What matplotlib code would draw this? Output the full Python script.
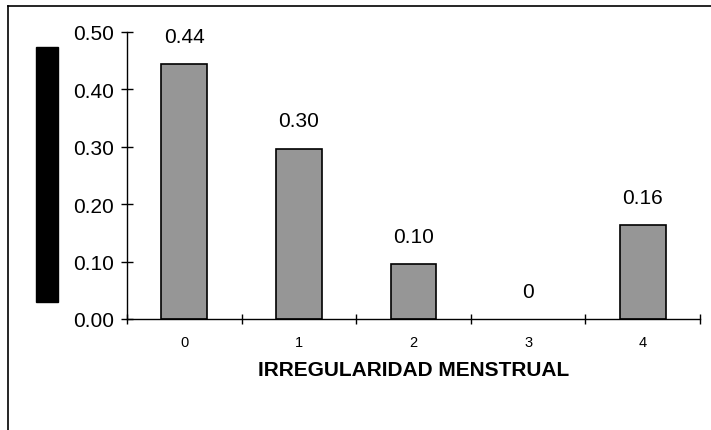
import matplotlib.pyplot as plt
from matplotlib.lines import Line2D
from matplotlib.patches import Rectangle

plt.rcParams['font.family'] = ['Liberation Sans', 'DejaVu Sans']

categorias = ["0", "1", "2", "3", "4"]
valores = [0.444, 0.297, 0.095, 0.0, 0.163]
etiquetas = ["0.44", "0.30", "0.10", "0", "0.16"]
yticks = [0.0, 0.1, 0.2, 0.3, 0.4, 0.5]

fig = plt.figure(figsize=(7.11, 4.31), dpi=100)
ax = fig.add_axes([127 / 711, 1 - 320 / 431, 573 / 711, 287 / 431])

x = list(range(len(categorias)))
# no outline for the empty category, it would just sit on the axis
lw = [1.2 if v > 0 else 0 for v in valores]
ax.bar(x, valores, width=0.4, color="#969696", edgecolor="black", linewidth=lw)

for xi, v, lab in zip(x, valores, etiquetas):
    ax.annotate(lab, (xi, v), xytext=(0, 20), textcoords="offset points",
                ha="center", va="center", fontsize=15)

ax.set_xlim(-0.5, 4.5)
ax.set_ylim(0, 0.5)
ax.set_yticks(yticks)
ax.set_yticklabels(["%.2f" % t for t in yticks], fontsize=15)
ax.set_xticks(x)
ax.set_xticklabels(categorias, fontsize=10.5)
ax.set_xticks([i - 0.5 for i in range(len(categorias) + 1)], minor=True)
ax.tick_params(axis="x", which="major", length=0, pad=11.5)
ax.tick_params(axis="x", which="minor", direction="inout", length=6.5, width=1)
ax.tick_params(axis="y", direction="inout", length=8.5, width=1, pad=5)
ax.set_xlabel("IRREGULARIDAD MENSTRUAL", fontsize=15, fontweight="bold", labelpad=8)

for s in ["top", "right"]:
    ax.spines[s].set_visible(False)
ax.spines["left"].set_linewidth(1)
ax.spines["bottom"].set_linewidth(1)

# black block where the y label sits
fig.patches.append(Rectangle((36 / 711, 1 - 303 / 431), 22 / 711, 255 / 431,
                             transform=fig.transFigure, color="black"))

# frame around the chart
fig.lines.append(Line2D([8 / 711, 1], [1 - 7 / 431, 1 - 7 / 431], transform=fig.transFigure, color="black", lw=1.2))
fig.lines.append(Line2D([8 / 711, 8 / 711], [0, 1 - 7 / 431], transform=fig.transFigure, color="black", lw=1.2))

fig.savefig("out.png", dpi=100)
